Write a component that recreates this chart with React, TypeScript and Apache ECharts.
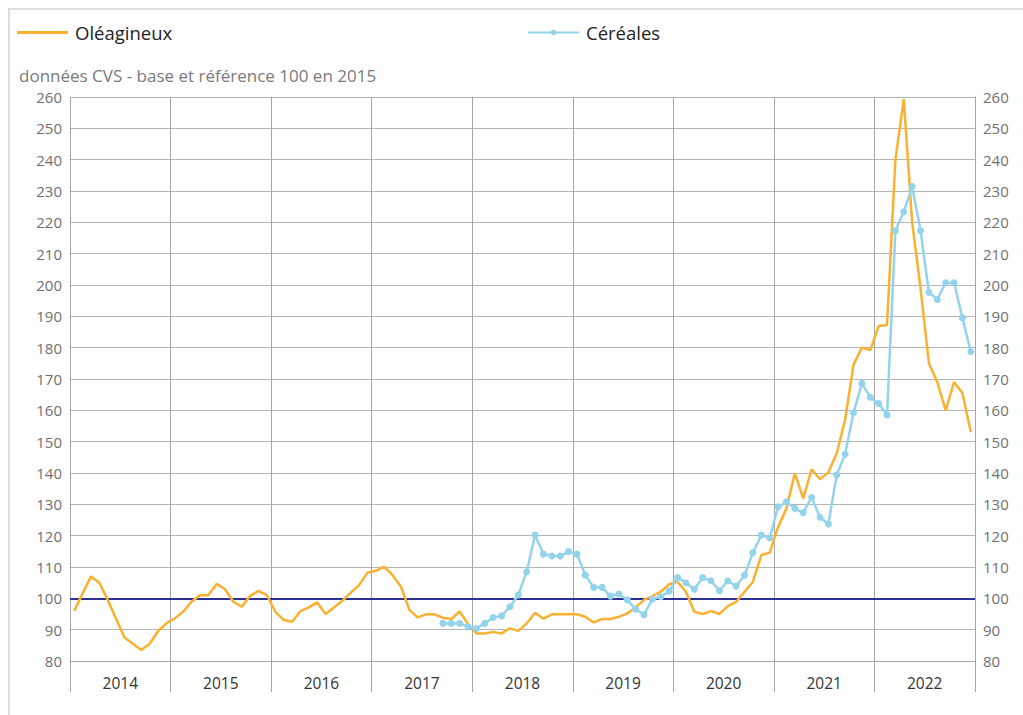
import React, { useEffect, useRef } from "react";
import * as echarts from "echarts";

const years = ["2014", "2015", "2016", "2017", "2018", "2019", "2020", "2021", "2022"];
const monthsPerYear = ["01", "02", "03", "04", "05", "06", "07", "08", "09", "10", "11", "12"];

const oleagineux = [
  96, 101.5, 107, 105, 99.5, 93.5, 87.5, 85.5, 83.5, 85.5, 89.5, 92,
  93.6, 95.7, 98.9, 101, 101, 104.6, 102.9, 98.9, 97.3, 100.8, 102.4, 101,
  95.7, 93.1, 92.5, 95.9, 97.1, 98.7, 95, 97.1, 99.2, 101.8, 104.2, 108.2,
  108.8, 110.1, 107.4, 103.7, 96.3, 93.9, 94.9, 94.9, 93.8, 93.4, 95.8, 91.8,
  88.8, 88.8, 89.3, 88.8, 90.4, 89.6, 92, 95.4, 93.5, 94.9, 94.9, 94.9,
  94.9, 94.1, 92.3, 93.4, 93.4, 94.1, 95.2, 97.1, 99.5, 100.7, 102.1, 104.5,
  105.3, 102.1, 95.7, 95, 95.9, 95, 97.5, 98.9, 102.1, 105.3, 113.8, 114.6,
  122.7, 128.7, 139.9, 131.9, 141.2, 138, 140.2, 146.3, 157, 174.5, 180, 179.2,
  186.9, 187.2, 239.9, 259.3, 220, 199, 175, 169, 160, 169, 165.5, 153,
];

// Céréales starts in September 2017 (month index 44)
const cerealesStart = 44;
const cereales = [
  92, 92, 92, 90.9,
  90.4, 92, 93.9, 94.4, 97.3, 101.1, 108.5, 120.2, 114.1, 113.5, 113.5, 114.9,
  114.1, 107.4, 103.5, 103.5, 100.7, 101.4, 99.5, 96.5, 94.8, 99.7, 100.5, 102.3,
  106.6, 105, 102.9, 106.6, 105.6, 102.4, 105.6, 103.9, 107.4, 114.6, 120.2, 119.3,
  129.2, 130.8, 128.7, 127.3, 132.2, 125.9, 123.7, 139.4, 146, 159.2, 168.6, 164.2,
  162.2, 158.5, 217.3, 223.4, 231.4, 217.3, 197.7, 195.4, 200.7, 200.7, 189.5, 178.7,
];

const referenceValue = 100;
const yMin = 80;
const yMax = 260;
const yStep = 10;

const FONT = "'Open Sans', 'Noto Sans', sans-serif";

export default function App() {
  const ref = useRef<HTMLDivElement>(null);

  useEffect(() => {
    if (!ref.current) return;
    const chart = echarts.init(ref.current, undefined, { renderer: "svg" });

    const months: string[] = [];
    years.forEach((y) => monthsPerYear.forEach((m) => months.push(`${y}-${m}`)));
    const cerealesData: (number | null)[] = months.map(() => null);
    cereales.forEach((v, i) => {
      cerealesData[cerealesStart + i] = v;
    });

    const gridColor = "#b4b4b4";
    const vColor = "#a6a6a6";
    const labelColor = "#707070";
    const orange = "#fab132";
    const blue = "#93d3ec";

    chart.setOption({
      animation: false,
      textStyle: { fontFamily: FONT },
      title: {
        text: "données CVS - base et référence 100 en 2015",
        left: 14,
        top: 62,
        textStyle: { fontFamily: FONT, fontSize: 17, fontWeight: "normal", color: "#7a7a7a" },
      },
      legend: [
        {
          data: [{ name: "Oléagineux", icon: "rect" }],
          left: 12,
          top: 18,
          itemWidth: 51,
          itemHeight: 3,
          textStyle: { fontFamily: FONT, fontSize: 18.5, color: "#222", padding: [0, 0, 0, 2] },
        },
        {
          data: ["Céréales"],
          left: 522,
          top: 18,
          itemWidth: 51,
          itemHeight: 7,
          textStyle: { fontFamily: FONT, fontSize: 18.5, color: "#222", padding: [0, 0, 0, 2] },
        },
      ],
      graphic: [
        {
          type: "rect",
          silent: true,
          shape: { x: 9, y: 9, width: 1100, height: 800 },
          style: { fill: "none", stroke: "#dcdcdc", lineWidth: 2 },
        },
      ],
      grid: { left: 70, right: 48, top: 97, bottom: 54, containLabel: false },
      xAxis: [
        {
          type: "category",
          data: months,
          boundaryGap: true,
          show: false,
        },
        {
          type: "category",
          data: years,
          boundaryGap: true,
          position: "bottom",
          axisLine: { show: true, lineStyle: { color: vColor, width: 1 } },
          axisTick: { show: true, interval: 0, length: 31, lineStyle: { color: vColor, width: 1 } },
          splitLine: { show: true, interval: 0, lineStyle: { color: vColor, width: 1 } },
          axisLabel: { interval: 0, margin: 14, fontFamily: FONT, fontSize: 15.5, color: "#333" },
        },
      ],
      yAxis: [
        {
          type: "value",
          min: yMin,
          max: yMax,
          interval: yStep,
          position: "left",
          axisLine: { show: true, lineStyle: { color: vColor, width: 1 } },
          axisTick: { show: false },
          splitLine: { show: true, lineStyle: { color: gridColor, width: 1 } },
          axisLabel: { margin: 8, fontFamily: FONT, fontSize: 15, color: labelColor },
        },
        {
          type: "value",
          min: yMin,
          max: yMax,
          interval: yStep,
          position: "right",
          axisLine: { show: true, lineStyle: { color: vColor, width: 1 } },
          axisTick: { show: false },
          splitLine: { show: false },
          axisLabel: { margin: 8, fontFamily: FONT, fontSize: 15, color: labelColor },
        },
      ],
      series: [
        {
          name: "Oléagineux",
          type: "line",
          xAxisIndex: 0,
          yAxisIndex: 0,
          data: oleagineux,
          symbol: "none",
          lineStyle: { color: orange, width: 2.5 },
          itemStyle: { color: orange },
          z: 3,
          markLine: {
            silent: true,
            symbol: "none",
            label: { show: false },
            lineStyle: { color: "#2e3192", width: 2, type: "solid" },
            data: [{ yAxis: referenceValue }],
            z: 2,
          },
        },
        {
          name: "Céréales",
          type: "line",
          xAxisIndex: 0,
          yAxisIndex: 0,
          data: cerealesData,
          symbol: "circle",
          symbolSize: 7,
          showSymbol: true,
          showAllSymbol: true,
          lineStyle: { color: blue, width: 2.5 },
          itemStyle: { color: blue },
          z: 4,
        },
      ],
    });

    return () => chart.dispose();
  }, []);

  return (
    <div
      ref={ref}
      style={{ position: "fixed", left: 0, top: 0, width: 1023, height: 715, background: "#fff" }}
    />
  );
}
